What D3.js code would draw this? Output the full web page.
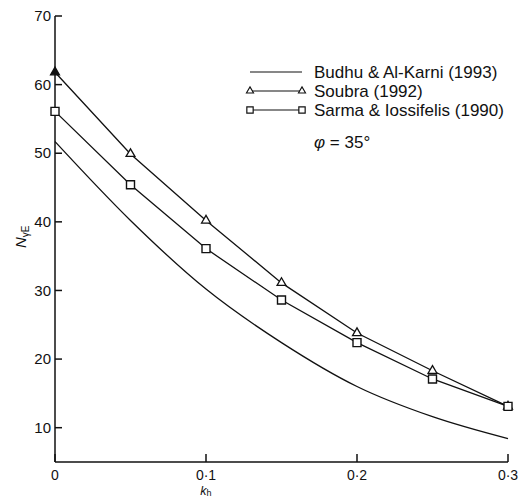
<!DOCTYPE html>
<html><head><meta charset="utf-8">
<script src="https://cdn.jsdelivr.net/npm/d3@7"></script>
<style>body{margin:0;background:#fff}svg{display:block}text{font-family:"Liberation Sans",Arial,sans-serif;fill:#111}</style>
</head><body><svg id="c" width="528" height="498"></svg>
<script>
const kh = [0, 0.05, 0.1, 0.15, 0.2, 0.25, 0.3];
const budhu = [51.7, 40.2, 30.2, 22.4, 16.0, 11.6, 8.4];
const soubra = [61.8, 49.9, 40.2, 31.1, 23.8, 18.3, 13.1];
const sarma = [56.1, 45.4, 36.1, 28.6, 22.4, 17.1, 13.1];
const yTicks = [10, 20, 30, 40, 50, 60, 70];
const xTicks = [0, 0.1, 0.2, 0.3];
const xTickLabels = ["0", "0·1", "0·2", "0·3"];
const legendLabels = ["Budhu & Al-Karni (1993)", "Soubra (1992)", "Sarma & Iossifelis (1990)"];

const svg = d3.select("#c");
const x = d3.scaleLinear().domain([0, 0.3]).range([55, 508]);
const y = d3.scaleLinear().domain([5, 70]).range([462, 16]);

// axes
const ax = svg.append("g").attr("stroke", "#111").attr("stroke-width", 1.5).attr("fill", "none");
ax.append("line").attr("x1", x(0)).attr("x2", x(0.3)).attr("y1", y(5)).attr("y2", y(5));
ax.append("line").attr("x1", x(0)).attr("x2", x(0)).attr("y1", y(5)).attr("y2", y(70));
yTicks.forEach(v => ax.append("line").attr("x1", x(0)).attr("x2", x(0) + 7).attr("y1", y(v)).attr("y2", y(v)));
xTicks.forEach(v => ax.append("line").attr("x1", x(v)).attr("x2", x(v)).attr("y1", y(5)).attr("y2", y(5) - 8));

svg.append("g").selectAll("text").data(yTicks).join("text")
  .attr("x", x(0) - 4).attr("y", d => y(d)).attr("dy", "0.35em").attr("text-anchor", "end")
  .attr("font-size", 15).text(d => d);
svg.append("g").selectAll("text").data(xTicks).join("text")
  .attr("x", d => x(d)).attr("y", 480).attr("text-anchor", "middle")
  .attr("font-size", 14).text((d, i) => xTickLabels[i]);

// axis titles
const xt = svg.append("text").attr("x", x(0.1)).attr("y", 495).attr("text-anchor", "middle").attr("font-size", 12.5);
xt.append("tspan").attr("font-style", "italic").text("k");
xt.append("tspan").attr("font-size", 9).attr("dy", 1).text("h");
const yt = svg.append("text").attr("transform", `translate(26,${y(40) + 15}) rotate(-90)`).attr("text-anchor", "middle").attr("font-size", 15);
yt.append("tspan").attr("font-style", "italic").text("N");
yt.append("tspan").attr("font-size", 10).attr("dy", 3).text("γE");

// data
const pts = arr => arr.map((v, i) => [kh[i], v]);
const lineSmooth = d3.line().x(d => x(d[0])).y(d => y(d[1])).curve(d3.curveMonotoneX);
const lineLin = d3.line().x(d => x(d[0])).y(d => y(d[1]));
const g = svg.append("g").attr("fill", "none").attr("stroke", "#111").attr("stroke-width", 1.3);
g.append("path").attr("d", lineSmooth(pts(budhu)));
g.append("path").attr("d", lineLin(pts(soubra)));
g.append("path").attr("d", lineLin(pts(sarma)));

const tri = d3.symbol().type(d3.symbolTriangle).size(34);
const sq = d3.symbol().type(d3.symbolSquare).size(64);
svg.append("g").selectAll("path").data(pts(soubra)).join("path")
  .attr("d", tri).attr("transform", d => `translate(${x(d[0])},${y(d[1])})`)
  .attr("fill", (d, i) => i === 0 ? "#111" : "#fff").attr("stroke", "#111").attr("stroke-width", 1.3);
svg.append("g").selectAll("path").data(pts(sarma)).join("path")
  .attr("d", sq).attr("transform", d => `translate(${x(d[0])},${y(d[1])})`)
  .attr("fill", "#fff").attr("stroke", "#111").attr("stroke-width", 1.4);

// legend
const ly = [72, 91, 110];
const lg = svg.append("g");
ly.forEach((yy, i) => {
  lg.append("line").attr("x1", 250).attr("x2", 302).attr("y1", yy).attr("y2", yy).attr("stroke", "#111").attr("stroke-width", 1.2);
  lg.append("text").attr("x", 314).attr("y", yy).attr("dy", "0.35em").attr("font-size", 17).text(legendLabels[i]);
});
[250, 302].forEach(xx => {
  lg.append("path").attr("d", d3.symbol().type(d3.symbolTriangle).size(22)).attr("transform", `translate(${xx},${ly[1]})`).attr("fill", "#fff").attr("stroke", "#111").attr("stroke-width", 1.1);
  lg.append("path").attr("d", d3.symbol().type(d3.symbolSquare).size(40)).attr("transform", `translate(${xx},${ly[2]})`).attr("fill", "#fff").attr("stroke", "#111").attr("stroke-width", 1.2);
});
const phi = lg.append("text").attr("x", 314).attr("y", 142).attr("dy", "0.35em").attr("font-size", 17);
phi.append("tspan").attr("font-style", "italic").text("φ");
phi.append("tspan").text(" = 35°");
</script></body></html>
